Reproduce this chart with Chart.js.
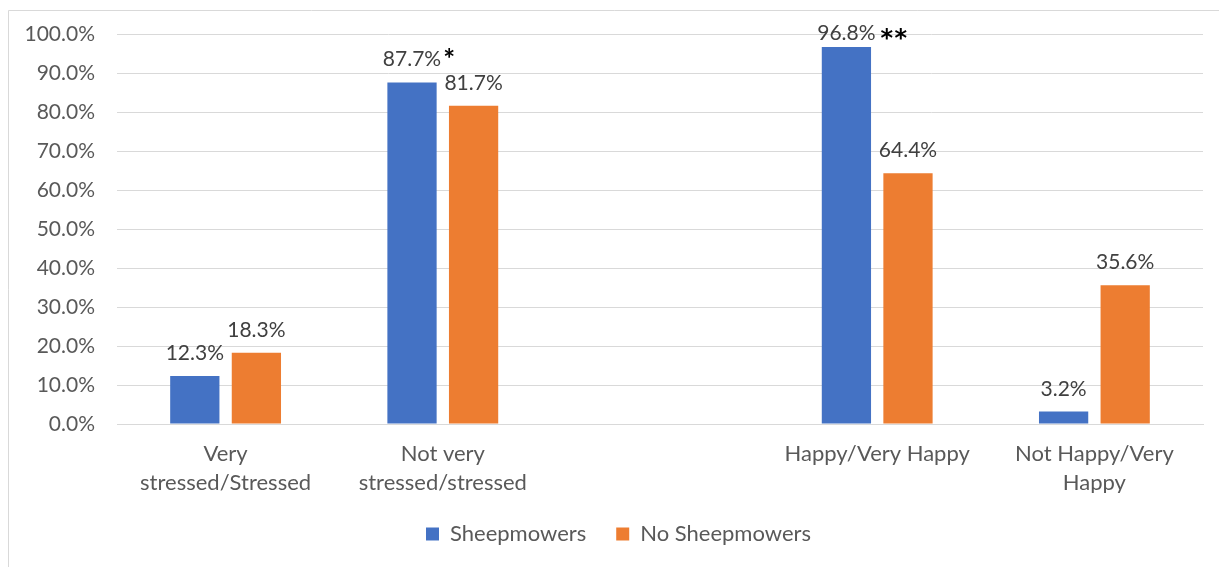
<!DOCTYPE html>
<html>
<head>
<meta charset="utf-8">
<script src="https://cdn.jsdelivr.net/npm/chart.js@4.4.0/dist/chart.umd.min.js"></script>
<style>
html,body{margin:0;padding:0;background:#fff;}
#wrap{position:relative;width:1219px;height:567px;}
</style>
</head>
<body>
<div id="wrap"><canvas id="c" width="1219" height="567"></canvas></div>
<script>
const categories = [["Very","stressed/Stressed"],["Not very","stressed/stressed"],"","Happy/Very Happy",["Not Happy/Very","Happy"]];
const sheepmowers = [12.3, 87.7, null, 96.8, 3.2];
const noSheepmowers = [18.3, 81.7, null, 64.4, 35.6];
const seriesNames = ["Sheepmowers", "No Sheepmowers"];
const significance = ["", "*", "", "**", ""];
const yTicks = [0,10,20,30,40,50,60,70,80,90,100];

const FONT = "Lato, 'Open Sans', sans-serif";

const borderPlugin = {
  id: 'outerBorder',
  beforeDraw(chart) {
    const ctx = chart.ctx;
    ctx.save();
    ctx.fillStyle = '#fff';
    ctx.fillRect(0,0,chart.width,chart.height);
    ctx.strokeStyle = '#d9d9d9';
    ctx.lineWidth = 1;
    ctx.beginPath();
    ctx.moveTo(8.5, 600);
    ctx.lineTo(8.5, 10.5);
    ctx.lineTo(1230, 10.5);
    ctx.stroke();
    ctx.restore();
  }
};

const legendShift = {
  id: 'legendShift',
  afterLayout(chart) {
    if (chart.legend) { chart.legend.left += 12; chart.legend.right += 12; }
  }
};

const labelPlugin = {
  id: 'valueLabels',
  afterDatasetsDraw(chart) {
    const ctx = chart.ctx;
    ctx.save();
    ctx.textBaseline = 'alphabetic';
    chart.data.datasets.forEach((ds, di) => {
      const meta = chart.getDatasetMeta(di);
      meta.data.forEach((bar, i) => {
        const v = ds.data[i];
        if (v === null || v === undefined) return;
        const txt = v.toFixed(1) + '%';
        const base = Math.max(bar.y - 16, 40);
        ctx.fillStyle = '#404040';
        ctx.font = "21px " + FONT;
        ctx.textAlign = 'center';
        ctx.fillText(txt, bar.x, base);
        if (di === 0 && significance[i]) {
          const w = ctx.measureText(txt).width;
          ctx.fillStyle = '#000';
          ctx.textAlign = 'left';
          if (significance[i] === '*') {
            ctx.font = "bold 28px " + FONT;
            ctx.fillText('*', bar.x + w/2 + 2, base + 3);
          } else {
            ctx.font = "bold 24px 'DejaVu Sans', sans-serif";
            ctx.fillText('*', bar.x + w/2 + 5, base + 6);
            ctx.fillText('*', bar.x + w/2 + 19, base + 6);
          }
        }
      });
    });
    ctx.restore();
  }
};

new Chart(document.getElementById('c'), {
  type: 'bar',
  data: {
    labels: categories,
    datasets: [
      { label: seriesNames[0], data: sheepmowers, backgroundColor: '#4472C4', categoryPercentage: 0.567, barPercentage: 0.8 },
      { label: seriesNames[1], data: noSheepmowers, backgroundColor: '#ED7D31', categoryPercentage: 0.567, barPercentage: 0.8 }
    ]
  },
  options: {
    responsive: false,
    animation: false,
    devicePixelRatio: 1,
    layout: { padding: { left: 10, right: 16, top: 34, bottom: 12 } },
    plugins: {
      legend: {
        position: 'bottom',
        labels: {
          font: { family: FONT, size: 22 },
          color: '#595959',
          boxWidth: 13, boxHeight: 13,
          padding: 30,
          generateLabels(chart) {
            return chart.data.datasets.map((ds, i) => ({
              text: ds.label, fillStyle: ds.backgroundColor, strokeStyle: ds.backgroundColor,
              lineWidth: 0, datasetIndex: i, fontColor: '#595959'
            }));
          }
        }
      },
      tooltip: { enabled: false }
    },
    scales: {
      x: {
        grid: { display: false, drawTicks: false },
        border: { color: '#d9d9d9', width: 1 },
        ticks: { font: { family: FONT, size: 22, lineHeight: 1.3 }, color: '#595959', padding: 16, maxRotation: 0, autoSkip: false },
        afterFit(scale) { scale.height = 69; }
      },
      y: {
        min: 0, max: 100,
        afterBuildTicks(scale) { scale.ticks = yTicks.map(v => ({ value: v })); },
        grid: { color: '#d9d9d9', lineWidth: 1, drawTicks: false },
        border: { display: false },
        ticks: {
          font: { family: FONT, size: 21 }, color: '#595959', padding: 22,
          callback: v => v.toFixed(1) + '%'
        },
        afterFit(scale) { scale.width = 107; }
      }
    }
  },
  plugins: [borderPlugin, legendShift, labelPlugin]
});
</script>
</body>
</html>
